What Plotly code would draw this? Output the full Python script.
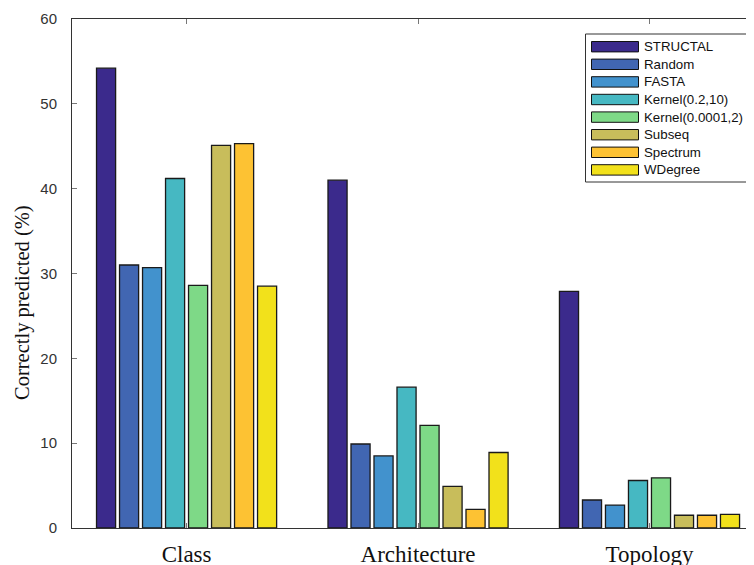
import plotly.graph_objects as go

categories = ["Class", "Architecture", "Topology"]
methods = ["STRUCTAL", "Random", "FASTA", "Kernel(0.2,10)", "Kernel(0.0001,2)",
           "Subseq", "Spectrum", "WDegree"]
structal = [54.2, 41.0, 27.9]
random_ = [31.0, 9.9, 3.3]
fasta = [30.7, 8.5, 2.7]
kernel_02_10 = [41.2, 16.6, 5.6]
kernel_00001_2 = [28.6, 12.1, 5.9]
subseq = [45.1, 4.9, 1.5]
spectrum = [45.3, 2.2, 1.5]
wdegree = [28.5, 8.9, 1.6]
series = [structal, random_, fasta, kernel_02_10, kernel_00001_2, subseq, spectrum, wdegree]
colors = ["#3b2a8c", "#4166b2", "#4292cd", "#46b8c2", "#7ed987",
          "#c8bd5b", "#fdc233", "#f2e11b"]
yticks = [0, 10, 20, 30, 40, 50, 60]

xpos = [1, 2, 3]
fig = go.Figure()
for name, vals, col in zip(methods, series, colors):
    fig.add_trace(go.Bar(x=xpos, y=vals, name=name, marker_color=col,
                         marker_line=dict(color="#1a1a1a", width=1.3),
                         showlegend=False))

# page has an 8px body margin; plot area in page pixels: x 72..762, y 19..528
W, H = 754, 565
ml, mt, mb, mr = 64, 11, 45, 0
pw = W - ml - mr
ph = H - mt - mb


def px_x(xp):
    return (xp - 8 - ml) / pw


def px_y(yp):
    return (H - mb - (yp - 8)) / ph


shapes = []
annotations = []
# custom legend (wide swatches, as in the reference)
shapes.append(dict(type="rect", xref="paper", yref="paper",
                   x0=px_x(585.5), x1=px_x(748.5), y0=px_y(182), y1=px_y(34),
                   line=dict(color="#333", width=1), fillcolor="white", layer="above"))
row0, step = 46.7, 17.6
for i, (name, col) in enumerate(zip(methods, colors)):
    cy = row0 + i * step
    shapes.append(dict(type="rect", xref="paper", yref="paper",
                       x0=px_x(591.5), x1=px_x(638.5), y0=px_y(cy + 5.2), y1=px_y(cy - 5.2),
                       line=dict(color="#111", width=1), fillcolor=col, layer="above"))
    annotations.append(dict(xref="paper", yref="paper", x=px_x(642), y=px_y(cy),
                            xanchor="left", yanchor="middle", text=name, showarrow=False,
                            font=dict(family="Liberation Sans, Arial", size=13.3, color="#111")))

annotations.append(dict(xref="paper", yref="paper", x=px_x(22), y=px_y(303),
                        xanchor="center", yanchor="middle", textangle=-90,
                        text="Correctly predicted (%)", showarrow=False,
                        font=dict(family="Liberation Serif, Times New Roman", size=20.5, color="#111")))

fig.update_layout(
    width=W, height=H,
    margin=dict(l=ml, r=mr, t=mt, b=mb, autoexpand=False),
    paper_bgcolor="white", plot_bgcolor="white",
    barmode="group", bargap=0.205, bargroupgap=0.17,
    shapes=shapes, annotations=annotations,
    xaxis=dict(range=[0.505, 3.486], tickvals=xpos, ticktext=categories,
               ticks="inside", ticklen=5, tickcolor="#777",
               showline=True, linecolor="#333", linewidth=1, mirror="ticks",
               showgrid=False, zeroline=False, ticklabelstandoff=5,
               tickfont=dict(family="Liberation Serif, Times New Roman", size=23, color="#111")),
    yaxis=dict(range=[0, 60], tickvals=yticks,
               ticks="inside", ticklen=5, tickcolor="#777",
               showline=True, linecolor="#333", linewidth=1, mirror="ticks",
               showgrid=False, zeroline=False, ticklabelstandoff=11,
               tickfont=dict(family="Liberation Sans, Arial", size=15, color="#333")),
)
fig.write_html("out.html")
